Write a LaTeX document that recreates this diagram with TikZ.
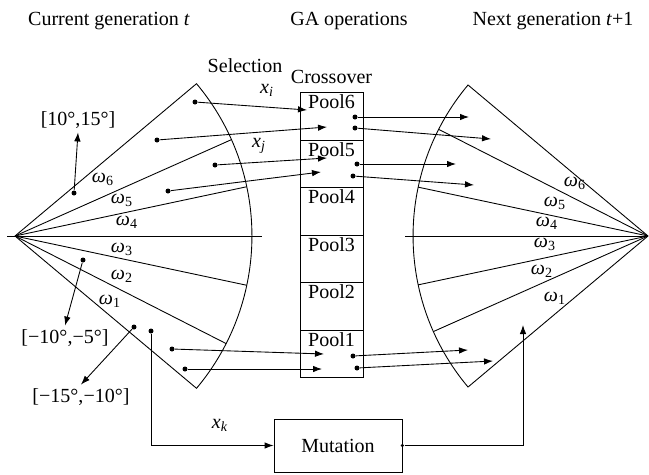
\documentclass[tikz,border=0pt]{standalone}
\usepackage{fontspec}
\setmainfont{Liberation Serif}
\usetikzlibrary{arrows.meta,positioning,calc}

\begin{document}
\begin{tikzpicture}[
  x=0.02cm, y=-0.02cm, line width=0.5pt,
  font=\fontsize{11.4pt}{13pt}\selectfont,
  pool/.style={draw, minimum width=1.26cm, minimum height=0.95cm, inner sep=0pt, outer sep=0pt},
  opbox/.style={draw, minimum width=2.56cm, minimum height=1.06cm},
  dot/.style={circle, fill, inner sep=0pt, minimum size=1mm},
  arr/.style={-{Latex[length=1.8mm,width=1.3mm]}},
  rng/.style={inner sep=2pt},
  plab/.style={inner sep=1pt, anchor=north},
]
\useasboundingbox (0,0) rectangle (649,474);

% headings
\node[anchor=base] (cur) at (109,25) {Current generation \textit{t}};
\node[anchor=base] (gaop) at (349,25) {GA operations};
\node[anchor=base] (nxt) at (553,25) {Next generation \textit{t}+1};
\node[anchor=base] (sel) at (245,72) {Selection};
\node[anchor=base] (cross) at (331.5,83) {Crossover};

% current generation
\coordinate (L) at (15,236);
\draw (L) -- ($(L)+(40:4.74cm)$) arc[start angle=40, end angle=-40, radius=4.74cm] -- (L);
\draw (L) -- ($(L)+(24:4.74cm)$);
\draw (L) -- ($(L)+(12:4.74cm)$);
\draw (L) -- ($(L)+(-12:4.74cm)$);
\draw (L) -- ($(L)+(-27:4.74cm)$);
\draw (7,236) -- (262,236);
\node (lw6) at (103,179) {\textit{ω}\textsubscript{6}};
\node (lw5) at (122,200) {\textit{ω}\textsubscript{5}};
\node (lw4) at (127,222) {\textit{ω}\textsubscript{4}};
\node (lw3) at (122,249) {\textit{ω}\textsubscript{3}};
\node (lw2) at (122,276) {\textit{ω}\textsubscript{2}};
\node (lw1) at (110,301) {\textit{ω}\textsubscript{1}};

% next generation
\coordinate (R) at (648,236);
\draw (R) -- ($(R)+(140:4.7cm)$) arc[start angle=140, end angle=220, radius=4.7cm] -- (R);
\draw (R) -- ($(R)+(153:4.7cm)$);
\draw (R) -- ($(R)+(168:4.7cm)$);
\draw (R) -- ($(R)+(192:4.7cm)$);
\draw (R) -- ($(R)+(204:4.7cm)$);
\draw (405,236) -- (R);
\node (rw6) at (575,183) {\textit{ω}\textsubscript{6}};
\node (rw5) at (555,203) {\textit{ω}\textsubscript{5}};
\node (rw4) at (547,223) {\textit{ω}\textsubscript{4}};
\node (rw3) at (545,244) {\textit{ω}\textsubscript{3}};
\node (rw2) at (542,271) {\textit{ω}\textsubscript{2}};
\node (rw1) at (555,298) {\textit{ω}\textsubscript{1}};

% pools
\node[pool, label={[plab]north:Pool6}] (p6) at (331.5,116.5) {};
\node[pool, below=0pt of p6, label={[plab]north:Pool5}] (p5) {};
\node[pool, below=0pt of p5, label={[plab]north:Pool4}] (p4) {};
\node[pool, below=0pt of p4, label={[plab]north:Pool3}] (p3) {};
\node[pool, below=0pt of p3, label={[plab]north:Pool2}] (p2) {};
\node[pool, below=0pt of p2, label={[plab]north:Pool1}] (p1) {};

% selection
\node[dot] (s1) at (195,102) {};
\node[dot] (s2) at (157,140) {};
\node[dot] (s3) at (215,165) {};
\node[dot] (s4) at (168,191) {};
\node[dot] (s5) at (172,349) {};
\node[dot] (s6) at (185,369) {};
\coordinate (t1) at (307,110);
\coordinate (t2) at (327,127);
\coordinate (t3) at (327,158);
\coordinate (t4) at (321,172);
\coordinate (t5) at (324,354);
\coordinate (t6) at (322,369);
\draw[arr] (s1) -- (t1);
\draw[arr] (s2) -- (t2);
\draw[arr] (s3) -- (t3);
\draw[arr] (s4) -- (t4);
\draw[arr] (s5) -- (t5);
\draw[arr] (s6) -- (t6);
\node (xi) at (267,90) {\textit{x}\textsubscript{\textit{i}}};
\node (xj) at (259,146) {\textit{x}\textsubscript{\textit{j}}};

% offspring
\node[dot] (o1) at (355,117) {};
\node[dot] (o2) at (355,128) {};
\node[dot] (o3) at (357,164) {};
\node[dot] (o4) at (353,176) {};
\node[dot] (o5) at (353,356) {};
\node[dot] (o6) at (357,368) {};
\coordinate (u1) at (469,117);
\coordinate (u2) at (491,139);
\coordinate (u3) at (456,164);
\coordinate (u4) at (474,185);
\coordinate (u5) at (468,350);
\coordinate (u6) at (493,361);
\draw[arr] (o1) -- (u1);
\draw[arr] (o2) -- (u2);
\draw[arr] (o3) -- (u3);
\draw[arr] (o4) -- (u4);
\draw[arr] (o5) -- (u5);
\draw[arr] (o6) -- (u6);

% angle ranges
\node[rng] (rg1) at (78,120) {[10°,15°]};
\node[rng] (rg2) at (65,338) {[−10°,−5°]};
\node[rng] (rg3) at (81,397) {[−15°,−10°]};
\node[dot] (a1) at (74,193) {};
\node[dot] (a2) at (83,260) {};
\node[dot] (a3) at (134,327) {};
\draw[arr] (a1) -- (rg1.south);
\draw[arr] (a2) -- (rg2.north);
\draw[arr] (a3) -- (rg3.north);

% mutation
\node[opbox] (mut) at (338,445.5) {Mutation};
\node[dot] (mk) at (151,331) {};
\draw[arr] (mk) |- (mut.west);
\node (xk) at (220,425) {\textit{x}\textsubscript{\textit{k}}};
\node[dot, minimum size=0.7mm] (mo) at (mut.east) {};
\coordinate (mup) at (523,325);
\draw[arr] (mo) -| (mup);
\end{tikzpicture}
\end{document}
